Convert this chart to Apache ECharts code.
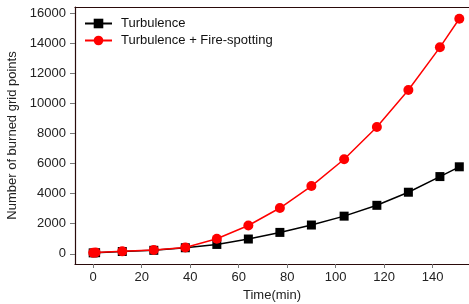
<!DOCTYPE html>
<html>
<head>
<meta charset="utf-8">
<script src="https://cdn.jsdelivr.net/npm/echarts@6/dist/echarts.min.js"></script>
<style>
html,body{margin:0;padding:0;background:#fff;}
#chart{width:469px;height:304px;}
</style>
</head>
<body>
<div id="chart"></div>
<script>
// 时间(分钟)
var timeMin=[0,1,12,25,38,51,64,77,90,103.5,117,130,143,151];
// 只有湍流
var turbulence=[60,70,150,230,400,620,980,1420,1910,2500,3220,4090,5130,5780];
// 湍流+飞火
var fireSpotting=[70,80,160,250,420,1000,1880,3040,4500,6280,8420,10880,13720,15620];
var xTicks=[0,20,40,60,80,100,120,140];
var yTicks=[0,2000,4000,6000,8000,10000,12000,14000,16000];

function pairs(xs,ys){
    var out=[];
    for(var i=0;i<xs.length;i++){
        out.push([xs[i],ys[i]]);
    }
    return out;
}

var axisColor='#2a0a0a';
var font='"Liberation Sans", Arial, sans-serif';

var mychart=echarts.init(document.getElementById('chart'));
var option={
    backgroundColor:'#fff',
    animation:false,
    grid:{left:75,right:0,top:7,bottom:40,containLabel:false,outerBoundsMode:'none'},
    legend:{
        left:79,
        top:12,
        orient:'vertical',
        itemWidth:27,
        itemHeight:12,
        itemGap:4,
        textStyle:{fontFamily:font,fontSize:13,color:'#111',padding:[0,0,0,4]},
        data:['Turbulence','Turbulence + Fire-spotting']
    },
    xAxis:[{
        type:'value',
        min:-7.5,
        max:155,
        name:'Time(min)',
        nameLocation:'middle',
        nameGap:24,
        nameTextStyle:{fontFamily:font,fontSize:13,color:'#222'},
        axisLine:{show:true,onZero:false,lineStyle:{color:axisColor,width:1.2}},
        axisTick:{show:true,length:4,lineStyle:{color:'#777'},customValues:xTicks},
        axisLabel:{fontFamily:font,fontSize:13,color:'#222',margin:7,customValues:xTicks},
        splitLine:{show:false}
    },{
        type:'value',
        position:'top',
        min:-7.5,
        max:155,
        axisLine:{show:true,onZero:false,lineStyle:{color:axisColor,width:1.2}},
        axisTick:{show:false},
        axisLabel:{show:false},
        splitLine:{show:false}
    }],
    yAxis:{
        type:'value',
        min:-680,
        max:16400,
        name:'Number of burned grid points',
        nameLocation:'middle',
        nameGap:41,
        nameTextStyle:{fontFamily:font,fontSize:13,color:'#222'},
        axisLine:{show:true,onZero:false,lineStyle:{color:axisColor,width:1.2}},
        axisTick:{show:true,length:5,lineStyle:{color:'#777'},customValues:yTicks},
        axisLabel:{fontFamily:font,fontSize:13,color:'#222',margin:9,customValues:yTicks,
            formatter:function(v){return String(v);}},
        splitLine:{show:false}
    },
    series:[{
        name:'Turbulence',
        type:'line',
        data:pairs(timeMin,turbulence),
        symbol:'rect',
        symbolSize:9,
        lineStyle:{color:'#000',width:1.5},
        itemStyle:{color:'#000'}
    },{
        name:'Turbulence + Fire-spotting',
        type:'line',
        data:pairs(timeMin,fireSpotting),
        symbol:'circle',
        symbolSize:10,
        lineStyle:{color:'#ff0000',width:1.5},
        itemStyle:{color:'#ff0000'}
    }]
};
mychart.setOption(option);
</script>
</body>
</html>
